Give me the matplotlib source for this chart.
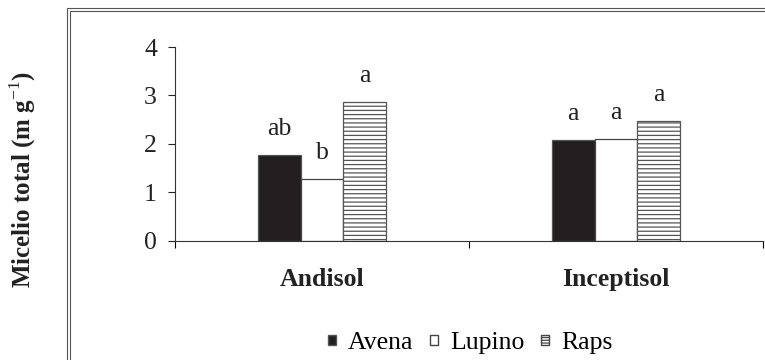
import numpy as np
import matplotlib.pyplot as plt
from matplotlib.patches import Rectangle, Patch

# data
soils = ["Andisol", "Inceptisol"]
cultivos = ["Avena", "Lupino", "Raps"]
avena = [1.77, 2.07]
lupino = [1.28, 2.10]
raps = [2.87, 2.47]
letras = [["ab", "b", "a"], ["a", "a", "a"]]

plt.rcParams['font.family'] = ['Liberation Serif', 'DejaVu Serif']
plt.rcParams['mathtext.fontset'] = 'custom'
plt.rcParams['mathtext.rm'] = 'Liberation Serif'
plt.rcParams['hatch.linewidth'] = 0.9

fs = 18.5
fig = plt.figure(figsize=(7.65, 3.6), dpi=100)
ax = fig.add_axes([175/765, 1-240.7/360, 588/765, 193.7/360])

x = np.arange(len(soils))
w = 0.145
series = [avena, lupino, raps]
styles = [dict(color="#231f20", edgecolor="#555555"),
          dict(color="white", edgecolor="#444444"),
          dict(color="white", edgecolor="#555555", hatch="----")]
for j, vals in enumerate(series):
    pos = x + (j-1)*w
    ax.bar(pos, vals, w, linewidth=0.9, **styles[j])
    for i, v in enumerate(vals):
        ax.annotate(letras[i][j], (pos[i], v), xytext=(0, 14.5),
                    textcoords="offset points", ha="center", va="baseline",
                    fontsize=fs, color="#222222")

ax.set_xlim(-0.5, 1.5)
ax.set_ylim(0, 4)
ax.set_yticks([0, 1, 2, 3, 4])
ax.tick_params(axis="y", direction="out", length=5, width=0.8, labelsize=fs,
               pad=8, colors="#222222")
ax.set_xticks([-0.5, 0.5, 1.5])
ax.set_xticklabels([])
ax.tick_params(axis="x", which="major", direction="out", length=5, width=0.8)
ax.set_xticks(x, minor=True)
ax.set_xticklabels(soils, minor=True, fontsize=fs, fontweight="bold")
ax.tick_params(axis="x", which="minor", length=0, pad=20, colors="#222222")
for s in ["top", "right"]:
    ax.spines[s].set_visible(False)
for s in ["left", "bottom"]:
    ax.spines[s].set_linewidth(0.8)
    ax.spines[s].set_color("#333333")

fig.text(23/765, 1-180/360, "Micelio total (m g$^{\\mathrm{-1}}$)", rotation=90,
         ha="center", va="center", fontsize=18, fontweight="bold", color="#222222")

# double frame
for off in [0, 3]:
    fig.patches.append(Rectangle(((67+off)/765, -0.1), 1.0, 1-(8+off)/360+0.1,
                                 transform=fig.transFigure, fill=False,
                                 edgecolor="#555555", linewidth=0.8))

handles = [Patch(facecolor="#231f20", edgecolor="#555555"),
           Patch(facecolor="white", edgecolor="#444444"),
           Patch(facecolor="white", edgecolor="#444444", hatch="------")]
fig.legend(handles, cultivos, loc="center", bbox_to_anchor=(470/765, 1-343/360),
           ncol=3, frameon=False, fontsize=fs, handlelength=0.33, handleheight=0.22,
           handletextpad=0.45, columnspacing=0.65)

fig.savefig("out.png", dpi=100)
